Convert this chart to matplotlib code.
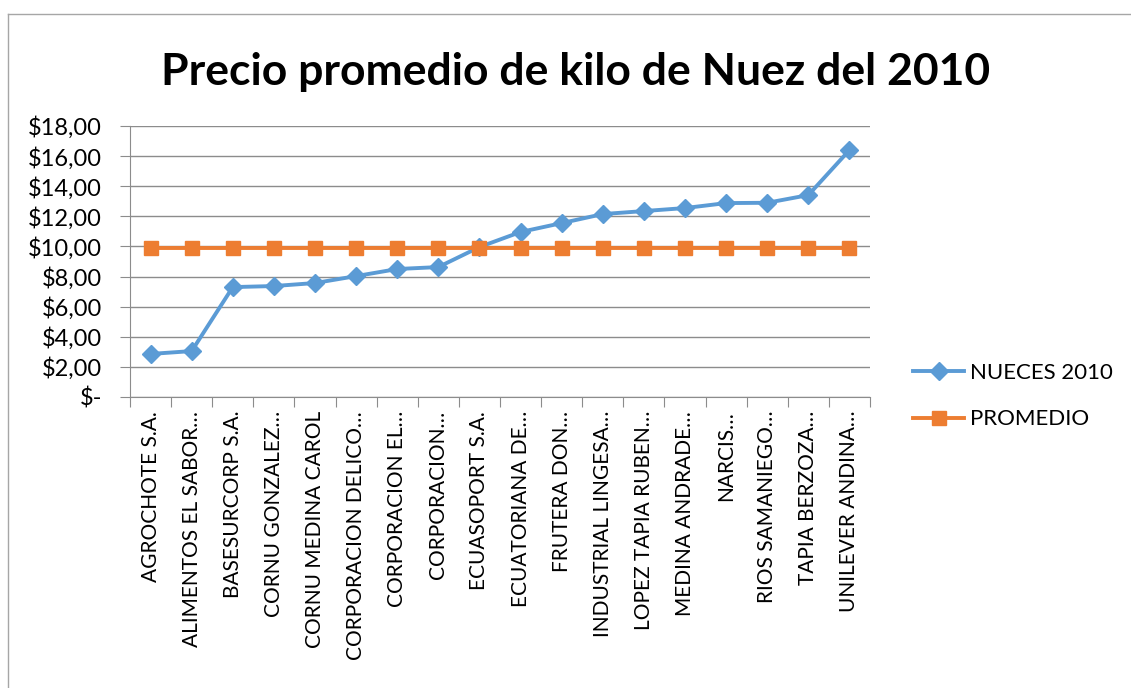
import matplotlib.pyplot as plt
from matplotlib.ticker import FuncFormatter
from matplotlib.lines import Line2D

plt.rcParams['font.family'] = ['Lato', 'DejaVu Sans']

empresas = ['AGROCHOTE S.A.', 'ALIMENTOS EL SABOR…', 'BASESURCORP S.A.', 'CORNU GONZALEZ…',
            'CORNU MEDINA CAROL', 'CORPORACION DELICO…', 'CORPORACION EL…', 'CORPORACION…',
            'ECUASOPORT S.A.', 'ECUATORIANA DE…', 'FRUTERA DON…', 'INDUSTRIAL LINGESA…',
            'LOPEZ TAPIA RUBEN…', 'MEDINA ANDRADE…', 'NARCIS…', 'RIOS SAMANIEGO…',
            'TAPIA BERZOZA…', 'UNILEVER ANDINA…']
nueces_2010 = [2.86, 3.05, 7.30, 7.37, 7.57, 8.03, 8.50, 8.63, 9.96, 10.96,
               11.55, 12.15, 12.35, 12.55, 12.88, 12.90, 13.41, 16.40]
promedio = [9.92] * len(empresas)

azul = '#5b9bd5'
naranja = '#ed7d31'

fig = plt.figure(figsize=(11.31, 6.88), dpi=100)
ax = fig.add_axes([130/1131, 1 - 397/688, 740/1131, 271/688])

x = list(range(len(empresas)))
ax.plot(x, nueces_2010, color=azul, lw=2.8, marker='D', ms=9, label='NUECES 2010')
ax.plot(x, promedio, color=naranja, lw=2.8, marker='s', ms=10, label='PROMEDIO')

ax.set_xlim(-0.5, len(empresas) - 0.5)
ax.set_ylim(0, 18)
ax.set_yticks(range(0, 19, 2))
ax.yaxis.set_major_formatter(FuncFormatter(lambda v, p: '$-' if v == 0 else '${:.2f}'.format(v).replace('.', ',')))
ax.grid(axis='y', color='#8c8c8c', lw=1)
ax.set_axisbelow(True)

# ticks between categories, labels centred on them
ax.set_xticks([i + 0.5 for i in range(-1, len(empresas))], minor=False)
ax.set_xticklabels([])
ax.set_xticks(x, minor=True)
ax.set_xticklabels(empresas, minor=True, rotation=90, fontsize=15)
ax.tick_params(axis='x', which='minor', length=0, pad=10)
ax.tick_params(axis='x', which='major', length=7, color='#8c8c8c')
ax.tick_params(axis='y', length=7, color='#8c8c8c', labelsize=17, pad=13)

for s in ['top', 'right']:
    ax.spines[s].set_visible(False)
for s in ['left', 'bottom']:
    ax.spines[s].set_color('#8c8c8c')

fig.text(576/1131, 1 - 72/688, 'Precio promedio de kilo de Nuez del 2010', ha='center', va='center',
         fontsize=32, fontweight='bold')

fig.legend(loc='center left', bbox_to_anchor=(893/1131, 1 - 396/688), frameon=False,
           fontsize=16, handlelength=2.3, labelspacing=1.2, handletextpad=0.25)

# chart area border (top and left only visible in the crop)
top = 1 - 14/688
left = 8/1131
fig.lines.append(Line2D([left, 1], [top, top], transform=fig.transFigure, color='#a6a6a6', lw=1))
fig.lines.append(Line2D([left, left], [0, top], transform=fig.transFigure, color='#a6a6a6', lw=1))

fig.savefig('out.png', dpi=100)
